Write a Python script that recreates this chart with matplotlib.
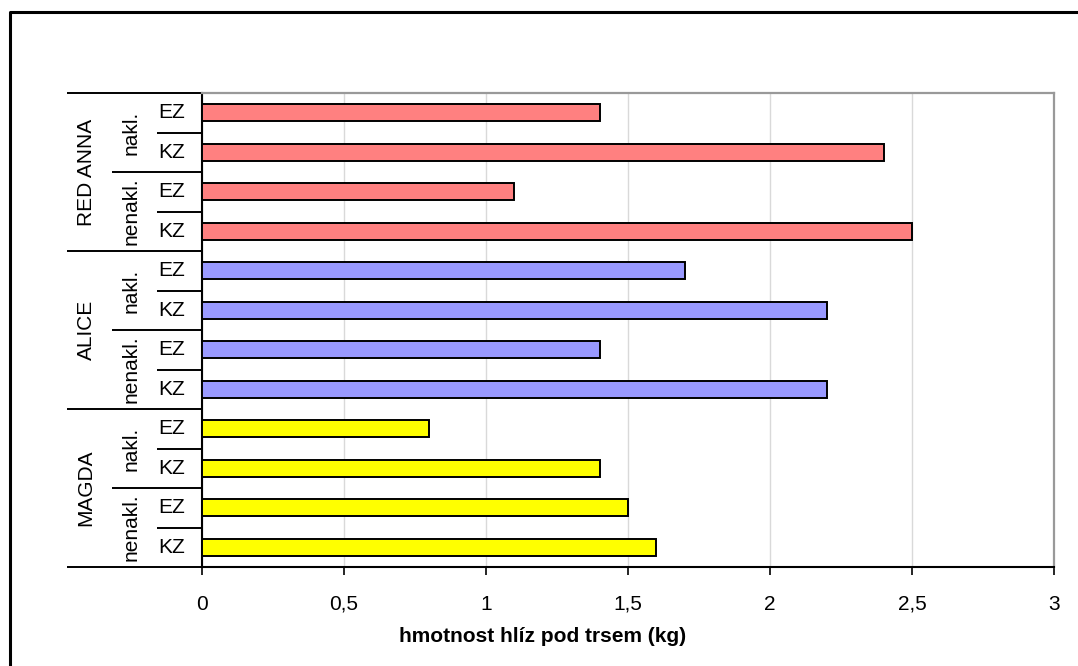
import numpy as np
import matplotlib
matplotlib.use("Agg")
import matplotlib.pyplot as plt
from matplotlib.transforms import blended_transform_factory
from matplotlib.lines import Line2D

plt.rcParams['font.family'] = ['Liberation Sans', 'DejaVu Sans']

# category levels, listed top to bottom
varieties = ['RED ANNA', 'ALICE', 'MAGDA']
treatments = ['nakl.', 'nenakl.']
terms = ['EZ', 'KZ']

# tuber weight per plant (kg), top to bottom
values = [1.4, 2.4, 1.1, 2.5,
          1.7, 2.2, 1.4, 2.2,
          0.8, 1.4, 1.5, 1.6]
variety_colors = ['#FF8080', '#9999FF', '#FFFF00']

xticks = [0, 0.5, 1, 1.5, 2, 2.5, 3]
xtick_labels = ['0', '0,5', '1', '1,5', '2', '2,5', '3']

W, H = 1078, 666
FS = 15
fig = plt.figure(figsize=(W / 100, H / 100), dpi=100)

# chart frame: only the left and top edges fall inside the image
fig.lines.append(Line2D([9.5 / W, 9.5 / W, 1], [0, 1 - 11.5 / H, 1 - 11.5 / H],
                        transform=fig.transFigure, color='black', linewidth=2.2))

left, right, top, bottom = 202, 1054, 93, 567
ax = fig.add_axes([left / W, 1 - bottom / H, (right - left) / W, (bottom - top) / H])

n = len(values)
y = np.arange(n)
colors = [variety_colors[i // 4] for i in range(n)]
ax.barh(y, values, height=0.44, color=colors, edgecolor='black', linewidth=1.4, zorder=3)

ax.set_xlim(0, 3)
ax.set_ylim(n - 0.5, -0.5)
ax.set_xticks(xticks)
ax.set_xticklabels(xtick_labels, fontsize=FS)
ax.tick_params(axis='x', direction='out', length=6, width=1.2, color='black', pad=14)
ax.set_yticks([])
ax.xaxis.grid(True, color='#d9d9d9', linewidth=1, zorder=0)

for side in ['top', 'right']:
    ax.spines[side].set_color('#999999')
    ax.spines[side].set_linewidth(1.6)
for side in ['left', 'bottom']:
    ax.spines[side].set_color('black')
    ax.spines[side].set_linewidth(1.5)

fig.text(543 / W, 1 - 636 / H, 'hmotnost hlíz pod trsem (kg)', ha='center', va='center',
         fontsize=FS, fontweight='bold')

# multi-level category labels on the left
tr = blended_transform_factory(fig.transFigure, ax.transData)
for i in range(n):
    ax.text(172 / W, i, terms[i % 2], transform=tr, ha='center', va='center', fontsize=FS)
for j in range(n // 2):
    ax.text(131 / W, 2 * j + 0.5, treatments[j % 2], transform=tr, ha='center',
            va='center', rotation=90, fontsize=FS)
for k, name in enumerate(varieties):
    ax.text(86 / W, 4 * k + 1.5, name, transform=tr, ha='center', va='center',
            rotation=90, fontsize=FS)

# group separators
for b in range(n + 1):
    if b % 4 == 0:
        x0 = 67
    elif b % 2 == 0:
        x0 = 112
    else:
        x0 = 157
    ax.plot([x0 / W, left / W], [b - 0.5, b - 0.5], transform=tr, color='black',
            linewidth=1.4, clip_on=False, solid_capstyle='butt')

fig.savefig('out.png', dpi=100)
